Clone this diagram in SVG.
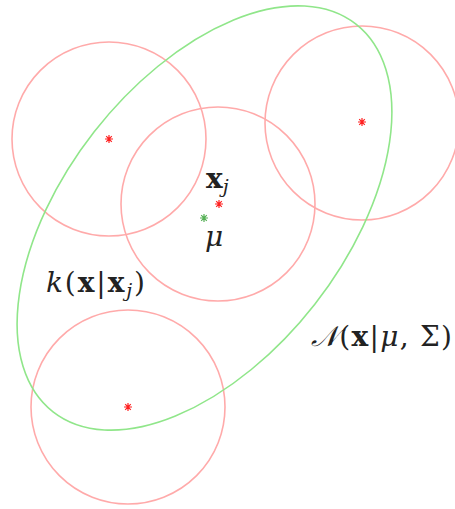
<svg xmlns="http://www.w3.org/2000/svg" width="455" height="509" viewBox="0 0 455 509">
<style>
.c{fill:none;stroke:#ffaaaa;stroke-width:1.6}
.e{fill:none;stroke:#90e68a;stroke-width:1.6}
.sr{stroke:#ff2020;stroke-width:1.2;fill:none}
.sg{stroke:#55b055;stroke-width:1.2;fill:none}
text{font-family:"DejaVu Serif","Liberation Serif",serif;font-size:28px;fill:#222}
.b{font-weight:bold}
.i{font-style:italic}
</style>
<defs>
<path id="star" d="M-4,0H4M0,-4V4M-2.8,-2.8L2.8,2.8M-2.8,2.8L2.8,-2.8"/>
</defs>
<rect width="455" height="509" fill="#fff"/>
<g id="kernel1"><circle class="c" cx="109" cy="139" r="97"/><use href="#star" class="sr" x="109" y="139"/></g>
<g id="kernel2"><circle class="c" cx="218" cy="204" r="97"/><use href="#star" class="sr" x="219" y="204"/></g>
<g id="kernel3"><circle class="c" cx="362" cy="123" r="97"/><use href="#star" class="sr" x="362" y="122"/></g>
<g id="kernel4"><circle class="c" cx="128" cy="407" r="97"/><use href="#star" class="sr" x="128" y="407"/></g>
<g id="gaussian"><ellipse class="e" cx="204.5" cy="218" rx="246" ry="140" transform="rotate(-52 204.5 218)"/><use href="#star" class="sg" x="204" y="218"/></g>
<g id="labels">
<text x="206" y="188"><tspan class="b">x</tspan><tspan class="i" font-size="19" dy="5">j</tspan></text>
<text x="205" y="246" class="i">μ</text>
<text x="46" y="292" textLength="99" lengthAdjust="spacing"><tspan class="i">k</tspan>(<tspan class="b">x</tspan>|<tspan class="b">x</tspan><tspan class="i" font-size="19" dy="5">j</tspan><tspan dy="-5">)</tspan></text>
<text x="311" y="346" textLength="141" lengthAdjust="spacing"><tspan class="i">𝒩</tspan>(<tspan class="b">x</tspan>|<tspan class="i">μ</tspan>, Σ)</text>
</g>
</svg>
